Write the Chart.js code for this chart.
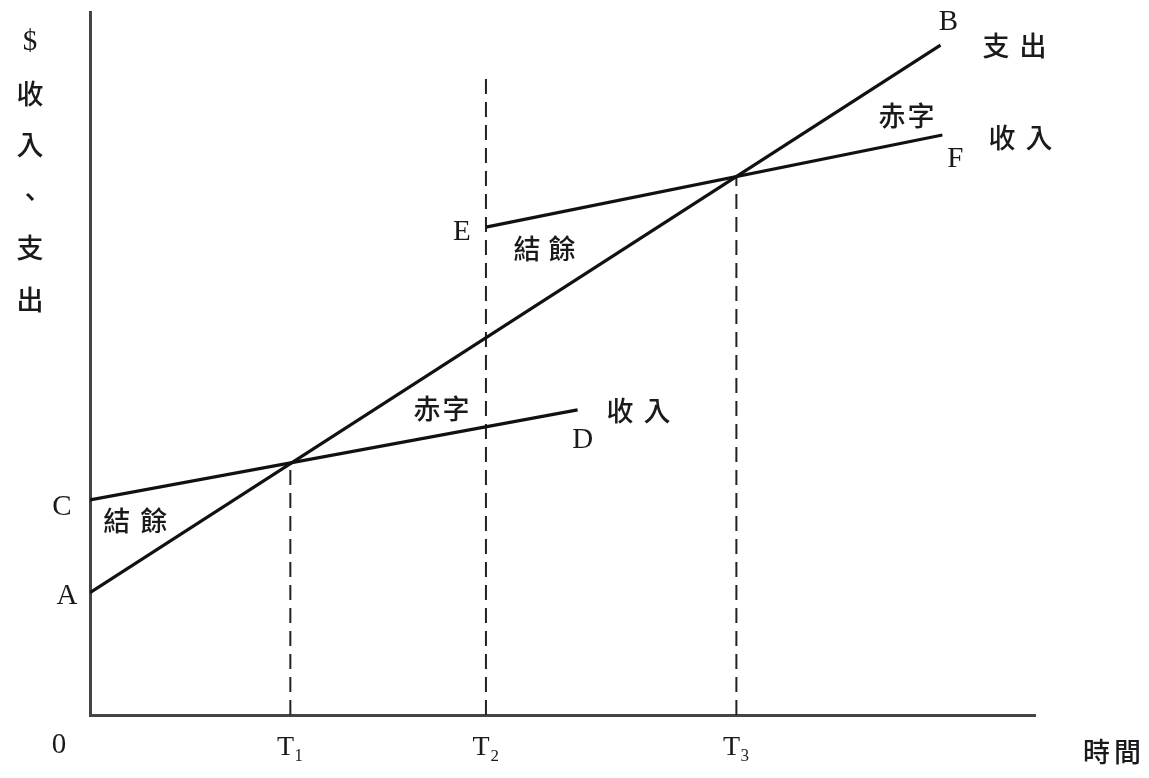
<!DOCTYPE html>
<html><head><meta charset="utf-8">
<script src="https://cdn.jsdelivr.net/npm/chart.js@4/dist/chart.umd.min.js"></script>
<style>html,body{margin:0;padding:0;background:#fff;}#wrap{width:1149px;height:778px;}</style>
</head><body><div id="wrap"><canvas id="c" width="1149" height="778"></canvas></div>
<script>
// time positions (x) of the marked periods
const timeTicks = [21.2, 41.9, 68.4];
const timeLabels = ['T\u2081', 'T\u2082', 'T\u2083'];
// expenditure line A -> B
const expenditure = [{x: 0, y: 17.4}, {x: 90.0, y: 95.3}];
// first income line C -> D
const income1 = [{x: 0, y: 30.6}, {x: 51.6, y: 43.4}];
// second income line E -> F
const income2 = [{x: 41.9, y: 69.4}, {x: 90.2, y: 82.5}];
// top of each dashed guide
const guideTops = [35.8, 91.5, 76.6];

const guides = timeTicks.map((t, i) => ({
  data: [{x: t, y: 0}, {x: t, y: guideTops[i]}],
  borderColor: '#222', borderWidth: 2, borderDash: [15, 8], pointRadius: 0, fill: false
}));

const serif = '"Liberation Serif", "DejaVu Serif", serif';
const cjk = '"Noto Sans CJK TC", "Noto Sans CJK SC", sans-serif';

const annot = {
  id: 'annot',
  afterDraw(chart) {
    const {ctx, scales: {x, y}} = chart;
    const P = (p) => [x.getPixelForValue(p.x), y.getPixelForValue(p.y)];
    ctx.save();
    ctx.fillStyle = '#1a1a1a';
    ctx.textAlign = 'center';
    ctx.textBaseline = 'middle';
    const txt = (s, px, py, font, sp) => {
      ctx.font = font;
      if (!sp) { ctx.fillText(s, px, py); return; }
      const chars = [...s];
      const w = chars.map(c => ctx.measureText(c).width);
      const total = w.reduce((a, b) => a + b, 0) + sp * (chars.length - 1);
      let cx = px - total / 2;
      chars.forEach((c, i) => { ctx.fillText(c, cx + w[i] / 2, py); cx += w[i] + sp; });
    };
    const L = '29px ' + serif;
    const C = '500 27px ' + cjk;
    let p;
    p = P(expenditure[0]); txt('A', p[0] - 23, p[1] + 4, L);
    p = P(expenditure[1]); txt('B', p[0] + 8, p[1] - 23, L);
    txt('\u652f\u51fa', p[0] + 74, p[1] + 1, C, 10);
    p = P(income1[0]); txt('C', p[0] - 28, p[1] + 8, L);
    p = P(income1[1]); txt('D', p[0] + 5, p[1] + 30, L);
    txt('\u6536\u5165', p[0] + 61, p[1] + 1, C, 10);
    p = P(income2[0]); txt('E', p[0] - 24, p[1] + 5, L);
    p = P(income2[1]); txt('F', p[0] + 13, p[1] + 24, L);
    txt('\u6536\u5165', p[0] + 78, p[1] + 3, C, 10);
    // region labels
    p = P({x: 4.8, y: 27.6}); txt('\u7d50\u9918', p[0], p[1], C, 10);
    p = P({x: 48.1, y: 66.3}); txt('\u7d50\u9918', p[0], p[1], C, 8);
    p = P({x: 37.2, y: 43.5}); txt('\u8d64\u5b57', p[0], p[1], C, 2);
    p = P({x: 86.4, y: 85.3}); txt('\u8d64\u5b57', p[0], p[1], C, 2);
    // origin
    p = P({x: 0, y: 0}); txt('0', p[0] - 31, p[1] + 30, L);
    // axis titles
    txt('\u6642\u9593', 1112, 752, C, 4);
    const ych = ['$', '\u6536', '\u5165', '\u3001', '\u652f', '\u51fa'];
    ych.forEach((c, i) => txt(c, 30, 42 + i * 51.5, i === 0 ? L : C));
    ctx.restore();
  }
};

new Chart(document.getElementById('c'), {
  type: 'line',
  data: {
    datasets: [
      {data: expenditure, borderColor: '#111', borderWidth: 3.2, pointRadius: 0, fill: false},
      {data: income1, borderColor: '#111', borderWidth: 3.2, pointRadius: 0, fill: false},
      {data: income2, borderColor: '#111', borderWidth: 3.2, pointRadius: 0, fill: false},
      ...guides
    ]
  },
  options: {
    responsive: false, animation: false,
    layout: {padding: {left: 90, right: 114, top: 12, bottom: 0}},
    plugins: {legend: {display: false}, tooltip: {enabled: false}},
    elements: {line: {tension: 0, borderCapStyle: 'butt'}},
    scales: {
      x: {
        type: 'linear', min: 0, max: 100,
        afterBuildTicks: (s) => { s.ticks = timeTicks.map(v => ({value: v})); },
        afterFit: (s) => { s.height = 63; },
        grid: {display: false, drawTicks: false},
        border: {display: true, color: '#444', width: 3},
        ticks: {
          padding: 16, color: '#1a1a1a', font: {family: serif, size: 28},
          callback: (v, i) => timeLabels[i]
        }
      },
      y: {
        type: 'linear', min: 0, max: 100,
        afterFit: (s) => { s.width = 0; },
        grid: {display: false, drawTicks: false},
        border: {display: true, color: '#444', width: 3},
        ticks: {display: false}
      }
    }
  },
  plugins: [annot]
});
</script></body></html>
